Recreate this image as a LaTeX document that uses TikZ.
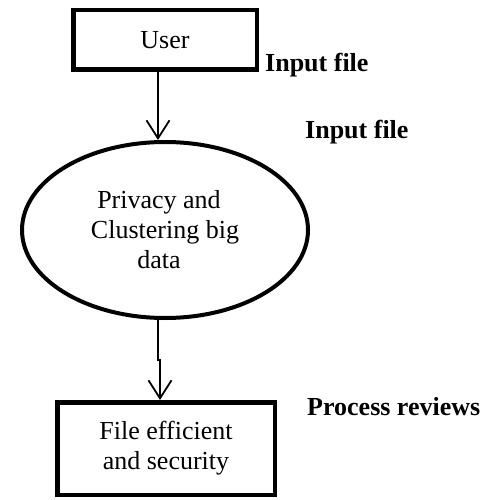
\documentclass[tikz,border=0pt]{standalone}
\usepackage{fontspec}
\setmainfont{Liberation Serif}
\usetikzlibrary{shapes.geometric,arrows.meta}
\tikzset{
  boxnode/.style={draw, line width=4.5pt, rectangle, inner sep=0pt, align=center, font=\fontsize{26}{30}\selectfont},
  ellnode/.style={draw, line width=4pt, ellipse, inner sep=0pt, align=center, font=\fontsize{26}{30}\selectfont},
  lbl/.style={font=\fontsize{26}{30}\selectfont\bfseries, inner sep=0pt},
  arr/.style={line width=1.8pt, -{Straight Barb[length=18pt,width=23pt,line width=1.8pt]}}
}
\begin{document}
\begin{tikzpicture}[x=1pt,y=-1pt]
\useasboundingbox (0,0) rectangle (487,500);
\node[boxnode, minimum width=183.5pt, minimum height=59.5pt] (user) at (165,40) {User};
\node[ellnode, minimum width=286pt, minimum height=176pt] (ell) at (165,230) {Privacy and\hspace*{12pt}\\Clustering big\hspace*{12pt}\\data\hspace*{12pt}};
\node[boxnode, minimum width=217.5pt, minimum height=92.5pt] (out) at (166,448.5) {File efficient\\and security};
\node[lbl, anchor=base west] (l1) at (265,72) {Input file};
\node[lbl, anchor=base west] (l2) at (305,138) {Input file};
\node[lbl, anchor=base west] (l3) at (307,415) {Process reviews};
\draw[arr] ([xshift=-7pt]user.south) -- ([xshift=-7pt]user.south |- ell.north);
\draw[arr] ([xshift=-7pt]ell.south) -- ([xshift=-7pt,yshift=-40pt]ell.south) -- ([xshift=-5pt,yshift=-40pt]ell.south) -- ([xshift=-5pt]ell.south |- out.north);
\end{tikzpicture}
\end{document}
